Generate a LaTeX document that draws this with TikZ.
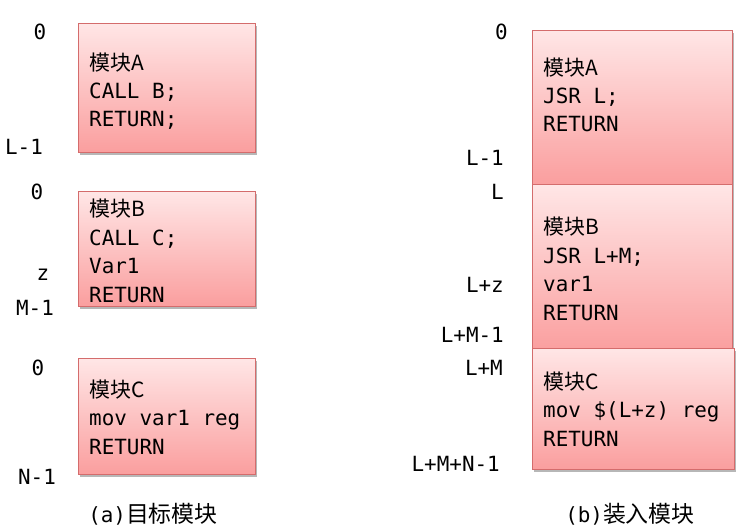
\documentclass[tikz,border=0pt]{standalone}
\usepackage{fontspec}
\setmonofont{DejaVu Sans Mono}
\newfontfamily\cjk{Noto Sans CJK SC}
\usetikzlibrary{shadows}
\definecolor{boxtop}{RGB}{255,230,230}
\definecolor{boxbot}{RGB}{250,158,158}
\definecolor{boxedge}{RGB}{212,108,108}
\tikzset{
  modbox/.style={draw=boxedge, line width=1.3bp, top color=boxtop, bottom color=boxbot,
    shading angle=0, inner sep=0pt, anchor=north west,
    drop shadow={shadow xshift=1.5bp, shadow yshift=-2.5bp, opacity=0.4, fill=black!70}},
  code/.style={inner sep=0pt, anchor=base west, align=left,
    font=\fontsize{21}{28.5}\selectfont\ttfamily},
  lbl/.style={inner sep=0pt, anchor=base, font=\fontsize{21}{25}\selectfont\ttfamily},
  rlbl/.style={inner sep=0pt, anchor=base east, font=\fontsize{21}{25}\selectfont\ttfamily},
  captext/.style={inner sep=0pt, anchor=base, font=\fontsize{21}{25}\selectfont\ttfamily}
}
\newcommand{\zh}[1]{{\cjk #1}}
\begin{document}
\begin{tikzpicture}[x=1bp,y=-1bp]
\useasboundingbox (0,0) rectangle (748,528);
% left: target modules (text anchored at baseline of last line)
\node[modbox, minimum width=177bp, minimum height=129bp] (LA) at (78,23) {};
\node[modbox, minimum width=177bp, minimum height=115bp] (LB) at (78,191) {};
\node[modbox, minimum width=177bp, minimum height=116bp] (LC) at (78,358) {};
\node[code] (tLA) at (89,127) {\zh{模块A}\\CALL B;\\RETURN;};
\node[code] (tLB) at (89,302) {\zh{模块B}\\CALL C;\\Var1\\RETURN};
\node[code] (tLC) at (89,454) {\zh{模块C}\\mov var1 reg\\RETURN};
\node[lbl] (la0) at (40,40) {0};
\node[lbl] (laL) at (24,155) {L-1};
\node[lbl] (lb0) at (37,200) {0};
\node[lbl] (lbz) at (43,281) {z};
\node[lbl] (lbM) at (35,315) {M-1};
\node[lbl] (lc0) at (38,375) {0};
\node[lbl] (lcN) at (37,484) {N-1};
\node[captext] (capa) at (153,522) {(a)\zh{\fontsize{23}{25}\selectfont 目标模块}};
% right: load module
\node[modbox, minimum width=200bp, minimum height=154bp] (RA) at (532,30) {};
\node[modbox, minimum width=200bp, minimum height=168bp] (RB) at (532,184) {};
\node[modbox, minimum width=202bp, minimum height=121bp] (RC) at (532,348) {};
\node[code] (tRA) at (543,132) {\zh{模块A}\\JSR L;\\RETURN};
\node[code] (tRB) at (543,320) {\zh{模块B}\\JSR L+M;\\var1\\RETURN};
\node[code] (tRC) at (543,446) {\zh{模块C}\\mov \$(L+z) reg\\RETURN};
\node[rlbl] (ra0) at (508,40) {0};
\node[rlbl] (raL) at (504,166) {L-1};
\node[rlbl] (rbL) at (504,200) {L};
\node[rlbl] (rbz) at (504,293) {L+z};
\node[rlbl] (rbM) at (504,342) {L+M-1};
\node[rlbl] (rcM) at (503,375) {L+M};
\node[rlbl] (rcN) at (500,471) {L+M+N-1};
\node[captext] (capb) at (630,522) {(b)\zh{\fontsize{23}{25}\selectfont 装入模块}};
\end{tikzpicture}
\end{document}
